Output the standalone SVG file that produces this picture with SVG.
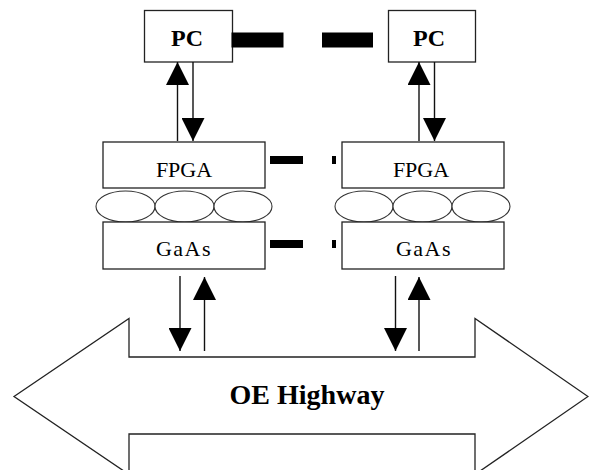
<svg xmlns="http://www.w3.org/2000/svg" width="589" height="470" viewBox="0 0 589 470">
  <style>
    .box { fill: #ffffff; stroke: #222; stroke-width: 1.3; }
    .bump { fill: #ffffff; stroke: #333; stroke-width: 1.1; }
    .wire { stroke: #111; stroke-width: 1.4; fill: none; }
    .bar { fill: #000; }
    .lbl { font-family: "Liberation Serif", "Times New Roman", serif; fill: #000; text-anchor: middle; }
    .pc { font-size: 24px; font-weight: bold; }
    .chip { font-size: 22px; }
    .hw { font-size: 28px; font-weight: bold; }
  </style>
  <defs>
    <marker id="arrow" viewBox="0 0 23 23" refX="23" refY="11.5" markerWidth="23" markerHeight="23" markerUnits="userSpaceOnUse" orient="auto">
      <path d="M0,0 L23,11.5 L0,23 z" fill="#000"/>
    </marker>
  </defs>

  <rect width="589" height="470" fill="#ffffff"/>

  <g id="oe-highway">
    <polygon class="box" points="14,396.5 129,318.5 129,357 475,357 475,318.5 588,396.5 475,474.5 475,434 129,434 129,474.5"/>
    <text class="lbl hw" x="307" y="404">OE Highway</text>
  </g>

  <g id="pc-left">
    <rect class="box" x="144.5" y="10.5" width="88" height="51.5"/>
    <text class="lbl pc" x="187" y="46">PC</text>
  </g>
  <g id="pc-right">
    <rect class="box" x="388.5" y="10.5" width="87" height="51.5"/>
    <text class="lbl pc" x="429" y="46">PC</text>
  </g>

  <g id="fpga-left">
    <rect class="box" x="103" y="142" width="162" height="46"/>
    <text class="lbl chip" x="184" y="176.5">FPGA</text>
  </g>
  <g id="fpga-right">
    <rect class="box" x="342" y="142" width="162" height="46"/>
    <text class="lbl chip" x="421" y="176.5">FPGA</text>
  </g>

  <g id="bumps-left">
    <ellipse class="bump" cx="125.5" cy="206.5" rx="29.5" ry="15.5"/>
    <ellipse class="bump" cx="184.5" cy="206.5" rx="29.5" ry="15.5"/>
    <ellipse class="bump" cx="243" cy="206.5" rx="29" ry="15.5"/>
  </g>
  <g id="bumps-right">
    <ellipse class="bump" cx="364" cy="206.5" rx="29" ry="15.5"/>
    <ellipse class="bump" cx="422.5" cy="206.5" rx="29.5" ry="15.5"/>
    <ellipse class="bump" cx="481" cy="206.5" rx="29" ry="15.5"/>
  </g>

  <g id="gaas-left">
    <rect class="box" x="103" y="222" width="162" height="47"/>
    <text class="lbl chip" x="184" y="255.5" letter-spacing="1.5">GaAs</text>
  </g>
  <g id="gaas-right">
    <rect class="box" x="342" y="222" width="162" height="47"/>
    <text class="lbl chip" x="424" y="255.5" letter-spacing="1.5">GaAs</text>
  </g>

  <g id="connectors">
    <!-- broken links between the two sides -->
    <rect class="bar" x="231.5" y="32.5" width="52" height="15"/>
    <rect class="bar" x="322" y="32.5" width="51" height="15"/>
    <rect class="bar" x="270" y="156" width="33" height="8"/>
    <rect class="bar" x="332" y="156" width="4" height="8"/>
    <rect class="bar" x="270" y="240" width="33" height="8"/>
    <rect class="bar" x="332" y="240" width="4" height="8"/>
    <!-- PC <-> FPGA -->
    <line class="wire" x1="177.5" y1="141" x2="177.5" y2="62" marker-end="url(#arrow)"/>
    <line class="wire" x1="193" y1="62" x2="193" y2="141" marker-end="url(#arrow)"/>
    <line class="wire" x1="419" y1="141" x2="419" y2="62" marker-end="url(#arrow)"/>
    <line class="wire" x1="434.5" y1="62" x2="434.5" y2="141" marker-end="url(#arrow)"/>
    <!-- GaAs <-> OE Highway -->
    <line class="wire" x1="180" y1="276" x2="180" y2="351" marker-end="url(#arrow)"/>
    <line class="wire" x1="204.5" y1="351" x2="204.5" y2="277" marker-end="url(#arrow)"/>
    <line class="wire" x1="395.5" y1="276" x2="395.5" y2="351" marker-end="url(#arrow)"/>
    <line class="wire" x1="419" y1="351" x2="419" y2="277" marker-end="url(#arrow)"/>
  </g>
</svg>
